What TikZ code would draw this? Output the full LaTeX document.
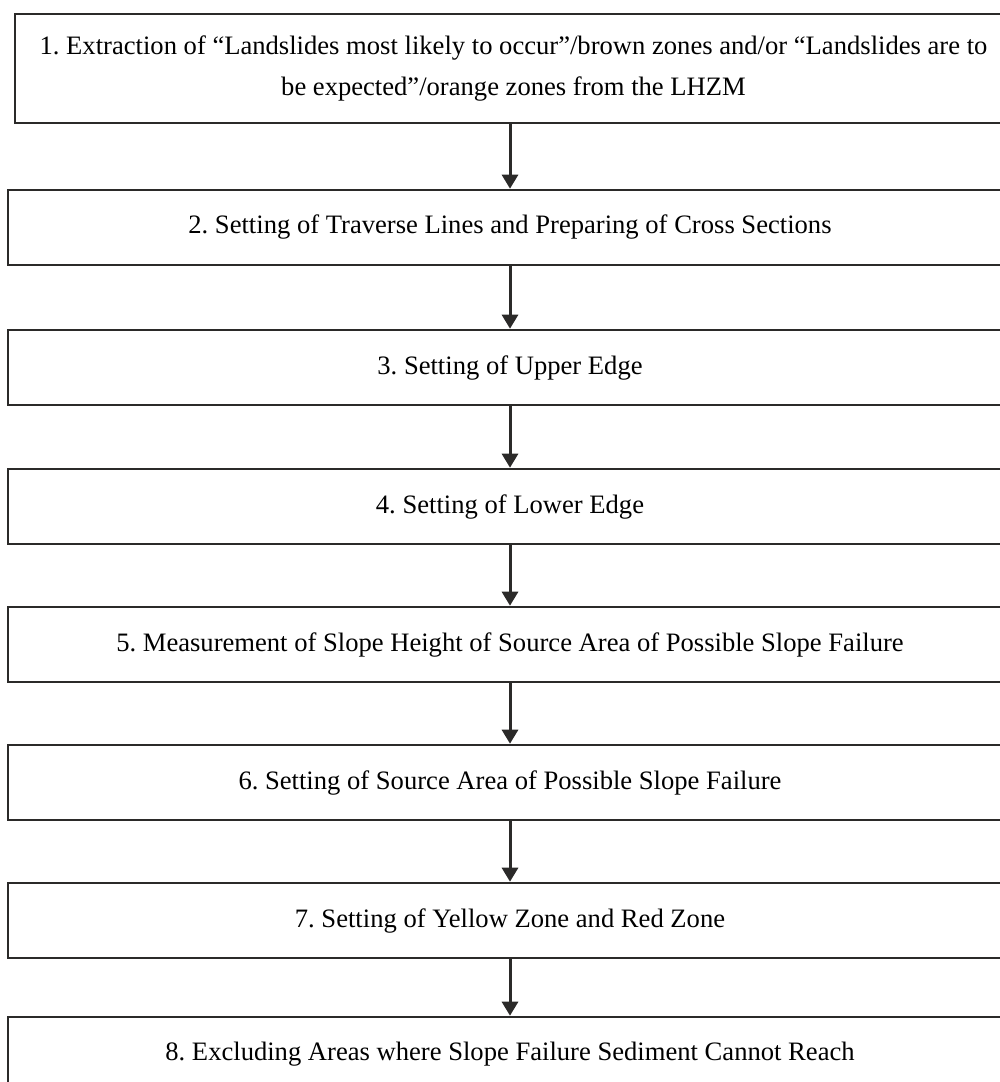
\documentclass[tikz,border=0pt]{standalone}
\usepackage{fontspec}
\setmainfont{Liberation Serif}
\usetikzlibrary{arrows.meta}
\definecolor{linea}{HTML}{2B2A29}

\begin{document}
\begin{tikzpicture}[x=0.5pt, y=-0.5pt,
  paso/.style={draw=linea, line width=1.3pt, minimum width=502pt, minimum height=37.5pt, inner sep=0pt, align=center, font=\fontsize{13.3}{20.5}\selectfont\frenchspacing},
  flecha/.style={draw=linea, line width=1.5pt, -{Triangle[width=8pt,length=7pt]}}]
\useasboundingbox (0,0) rectangle (1000,1082);

%Cajas
\node[paso, minimum width=498.5pt, minimum height=54.5pt] (s1) at (513.5,68.5) {1. Extraction of “Landslides most likely to occur”/brown zones and/or “Landslides are to\\be expected”/orange zones from the LHZM};
\node[paso] (s2) at (510,227.5) {2. Setting of Traverse Lines and Preparing of Cross Sections};
\node[paso] (s3) at (510,367.5) {3. Setting of Upper Edge};
\node[paso] (s4) at (510,506.5) {4. Setting of Lower Edge};
\node[paso] (s5) at (510,644.5) {5. Measurement of Slope Height of Source Area of Possible Slope Failure};
\node[paso] (s6) at (510,782.5) {6. Setting of Source Area of Possible Slope Failure};
\node[paso] (s7) at (510,920.5) {7. Setting of Yellow Zone and Red Zone};
\node[paso] (s8) at (510,1054.5) {8. Excluding Areas where Slope Failure Sediment Cannot Reach};

%Flechas
\draw[flecha] (s1.south -| s2.north) -- (s2.north);
\draw[flecha] (s2) -- (s3);
\draw[flecha] (s3) -- (s4);
\draw[flecha] (s4) -- (s5);
\draw[flecha] (s5) -- (s6);
\draw[flecha] (s6) -- (s7);
\draw[flecha] (s7) -- (s8);
\end{tikzpicture}
\end{document}
